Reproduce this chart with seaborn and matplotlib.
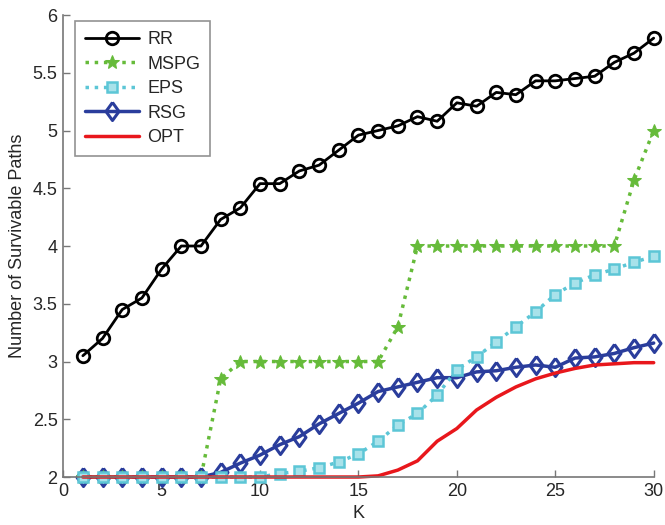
import numpy as np
import pandas as pd
import seaborn as sns
import matplotlib
matplotlib.use('Agg')
import matplotlib.pyplot as plt

# Data
K = list(range(1, 31))
rr = [3.05, 3.20, 3.45, 3.55, 3.80, 4.00, 4.00, 4.23, 4.33, 4.54,
      4.54, 4.65, 4.70, 4.83, 4.96, 5.00, 5.04, 5.12, 5.08, 5.24,
      5.21, 5.33, 5.31, 5.43, 5.43, 5.45, 5.47, 5.59, 5.67, 5.80]
mspg = [2.0, 2.0, 2.0, 2.0, 2.0, 2.0, 2.0, 2.85, 3.0, 3.0,
        3.0, 3.0, 3.0, 3.0, 3.0, 3.0, 3.30, 4.0, 4.0, 4.0,
        4.0, 4.0, 4.0, 4.0, 4.0, 4.0, 4.0, 4.0, 4.57, 5.0]
eps = [2.0, 2.0, 2.0, 2.0, 2.0, 2.0, 2.0, 2.0, 2.0, 2.0,
       2.03, 2.05, 2.08, 2.13, 2.20, 2.31, 2.45, 2.55, 2.71, 2.93,
       3.04, 3.17, 3.30, 3.43, 3.58, 3.68, 3.75, 3.80, 3.86, 3.91]
rsg = [2.0, 2.0, 2.0, 2.0, 2.0, 2.0, 2.0, 2.04, 2.12, 2.19,
       2.28, 2.35, 2.46, 2.55, 2.64, 2.74, 2.78, 2.82, 2.86, 2.86,
       2.91, 2.92, 2.95, 2.97, 2.95, 3.03, 3.04, 3.07, 3.12, 3.16]
opt = [2.0, 2.0, 2.0, 2.0, 2.0, 2.0, 2.0, 2.0, 2.0, 2.0,
       2.0, 2.0, 2.0, 2.0, 2.0, 2.01, 2.06, 2.14, 2.31, 2.42,
       2.58, 2.69, 2.78, 2.85, 2.90, 2.94, 2.97, 2.98, 2.99, 2.99]

sns.set_style('white')
plt.rcParams['font.family'] = ['Liberation Sans', 'DejaVu Sans']

fig = plt.figure(figsize=(6.65, 5.25), dpi=100)
ax = fig.add_axes([0.095, 0.0914, 0.888, 0.88])

diamond = [(0, 1), (0.72, 0), (0, -1), (-0.72, 0), (0, 1)]

sns.lineplot(x=K, y=rr, ax=ax, color='black', lw=2, marker='o', markersize=9,
             markerfacecolor='none', markeredgecolor='black', markeredgewidth=2,
             label='RR', clip_on=False)
sns.lineplot(x=K, y=rsg, ax=ax, color='#2a3d9c', lw=2.5, marker=diamond, markersize=13,
             markerfacecolor='none', markeredgecolor='#2a3d9c', markeredgewidth=2.2,
             label='RSG', clip_on=False)
sns.lineplot(x=K, y=mspg, ax=ax, color='#66bb3a', lw=2.5, ls=':', marker='*', markersize=10,
             markerfacecolor='#66bb3a', markeredgecolor='#66bb3a', label='MSPG', clip_on=False)
sns.lineplot(x=K, y=eps, ax=ax, color='#5cc6d6', lw=2.5, ls=':', marker='s', markersize=7,
             markerfacecolor='#a8e2ea', markeredgecolor='#5cc6d6', markeredgewidth=1.8,
             label='EPS', clip_on=False)
sns.lineplot(x=K, y=opt, ax=ax, color='#e8171c', lw=2.5, label='OPT', clip_on=False)

ax.set_xlim(0, 30)
ax.set_ylim(2, 6)
ax.set_xticks(range(0, 31, 5))
ax.set_yticks(np.arange(2, 6.01, 0.5))
ax.set_yticklabels(['2', '2.5', '3', '3.5', '4', '4.5', '5', '5.5', '6'])
ax.set_xlabel('K', fontsize=13, labelpad=4)
ax.set_ylabel('Number of Survivable Paths', fontsize=13, labelpad=5)

sns.despine(ax=ax)
for s in ['left', 'bottom']:
    ax.spines[s].set_color('#777777')
    ax.spines[s].set_linewidth(1.2)
ax.tick_params(axis='both', direction='in', length=5, width=1, color='#777777',
               labelsize=13, pad=4, bottom=True, left=True)

handles, labels = ax.get_legend_handles_labels()
order = ['RR', 'MSPG', 'EPS', 'RSG', 'OPT']
h = [handles[labels.index(o)] for o in order]
leg = ax.legend(h, order, loc='upper left', bbox_to_anchor=(0.02, 0.987), fontsize=13,
                frameon=True, fancybox=False, edgecolor='#777777', handlelength=3.0,
                handletextpad=0.45, labelspacing=0.42, borderpad=0.55, borderaxespad=0)
leg.get_frame().set_linewidth(1.2)

fig.savefig('out.png', dpi=100)
